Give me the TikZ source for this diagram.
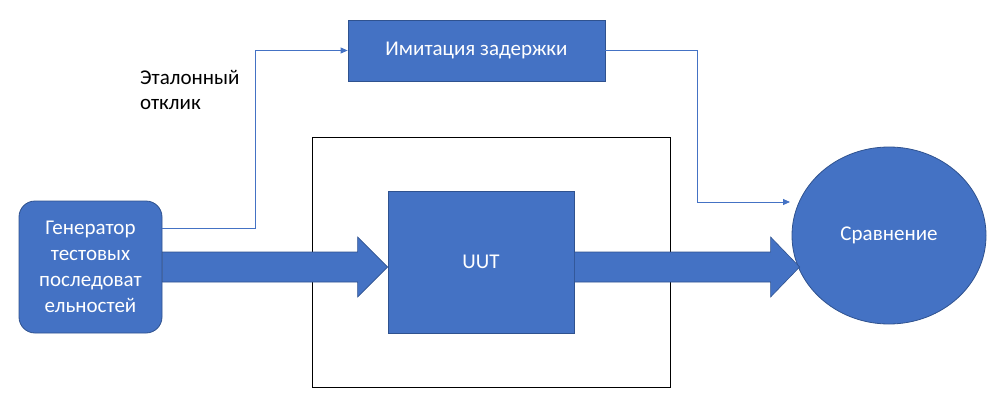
\documentclass[tikz,border=0pt]{standalone}
\usepackage{fontspec}
\setmainfont{Carlito}
\usetikzlibrary{shapes.geometric,arrows.meta,calc}
\definecolor{ofblue}{HTML}{4472C4}
\definecolor{ofedge}{HTML}{2F528F}
\begin{document}
\begin{tikzpicture}[x=1pt,y=-1pt,
  bluebox/.style={fill=ofblue,draw=ofedge,line width=0.8pt,text=white,inner sep=0pt,font=\fontsize{21}{26}\selectfont,align=center},
  thinarrow/.style={draw=ofblue,line width=0.8pt,-{Triangle[length=7pt,width=6pt]}},
  bigarrow/.style={fill=ofblue,draw=ofedge,line width=0.6pt}]
\useasboundingbox (0,0) rectangle (995,409);
\node[draw=black,line width=0.8pt,minimum width=358pt,minimum height=250pt,inner sep=0pt] (outer) at (491,262) {};
\node[bluebox,rounded corners=16pt,minimum width=143pt,minimum height=132pt] (gen) at (90.5,267) {Генератор\\тестовых\\последоват\\ельностей};
\node[bluebox,minimum width=257pt,minimum height=61pt] (imit) at (476.5,50.5) {Имитация задержки};
\node[bluebox,minimum width=186pt,minimum height=142pt] (uut) at (481,262) {UUT};
\node[bluebox,ellipse,minimum width=194pt,minimum height=177pt] (cmp) at (889,235.5) {Сравнение};
\node[anchor=north west,align=left,font=\fontsize{21}{25}\selectfont,inner sep=0pt] (lbl) at (140,70) {Эталонный\\отклик};
\coordinate (c1) at (790,202);
% big arrows
\draw[bigarrow] ($(gen.east)+(0,-15)$) -- ($(uut.west|-gen.east)+(-30,-15)$) -- ($(uut.west|-gen.east)+(-30,-30)$) -- (uut.west|-gen.east) -- ($(uut.west|-gen.east)+(-30,30)$) -- ($(uut.west|-gen.east)+(-30,15)$) -- ($(gen.east)+(0,15)$) -- cycle;
\draw[bigarrow] ($(uut.east|-gen.east)+(0,-15)$) -- ($(cmp.west|-gen.east)+(-21,-15)$) -- ($(cmp.west|-gen.east)+(-21,-30)$) -- ($(cmp.west|-gen.east)+(8,0)$) -- ($(cmp.west|-gen.east)+(-21,30)$) -- ($(cmp.west|-gen.east)+(-21,15)$) -- ($(uut.east|-gen.east)+(0,15)$) -- cycle;
% thin connectors
\draw[thinarrow] ($(gen.east)+(0,-39)$) -| ($(imit.west)+(-92,0)$) -- (imit.west);
\draw[thinarrow] (imit.east) -| ($(c1)+(-93,0)$) -- (c1);
\end{tikzpicture}
\end{document}
